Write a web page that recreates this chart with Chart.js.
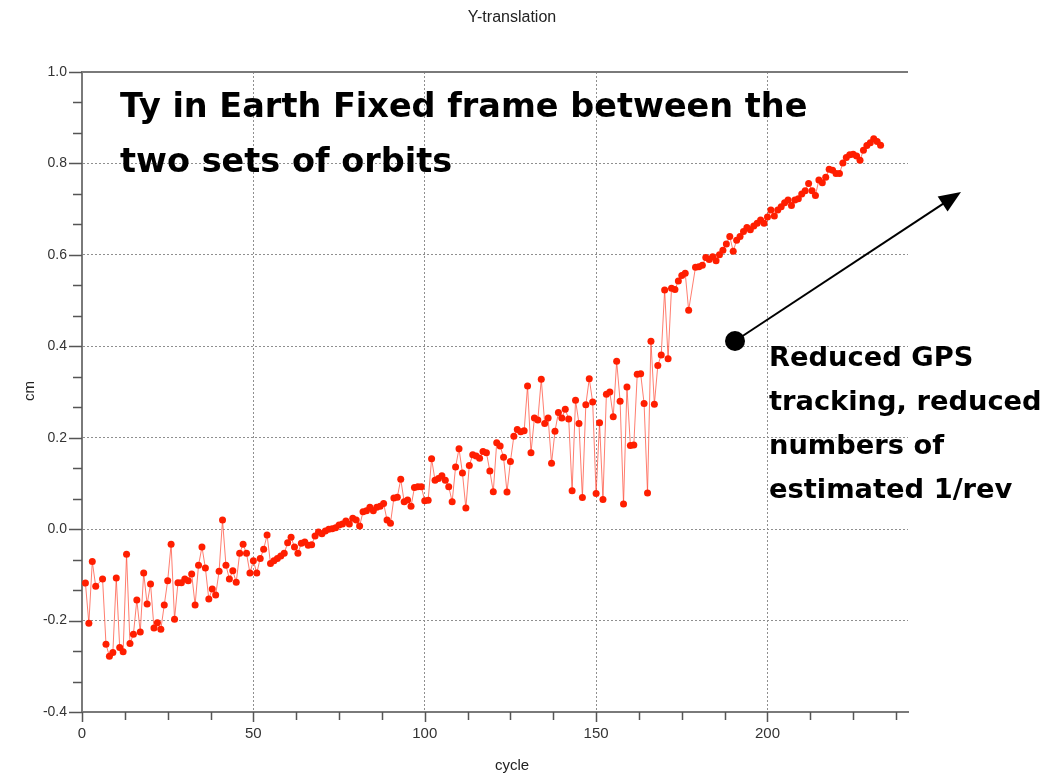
<!DOCTYPE html>
<html>
<head>
<meta charset="utf-8">
<title>Y-translation</title>
<script src="https://cdn.jsdelivr.net/npm/chart.js@4.4.1/dist/chart.umd.min.js"></script>
<style>
  html, body { margin: 0; padding: 0; background: #ffffff; }
</style>
</head>
<body>
<canvas id="tyChart" width="1061" height="775"></canvas>
<script>
// ---------------- DATA ----------------
// Ty per cycle, starting at cycle 1 (null = no solution for that cycle)
const ty = [
  -0.118, -0.206, -0.071, -0.125,   null, -0.109, -0.252, -0.278, -0.270, -0.107,
  -0.259, -0.268, -0.055, -0.250, -0.230, -0.155, -0.225, -0.096, -0.164, -0.120,
  -0.216, -0.205, -0.219, -0.166, -0.113, -0.033, -0.197, -0.117, -0.117, -0.109,
  -0.113, -0.098, -0.166, -0.079, -0.039, -0.085, -0.153, -0.131, -0.144, -0.092,
   0.020, -0.079, -0.109, -0.091, -0.116, -0.053, -0.033, -0.053, -0.096, -0.069,
  -0.096, -0.064, -0.044, -0.013, -0.075, -0.069, -0.064, -0.059, -0.053, -0.030,
  -0.018, -0.039, -0.053, -0.031, -0.028, -0.035, -0.034, -0.015, -0.006, -0.010,
  -0.004,  0.000,  0.001,  0.003,  0.009,  0.011,  0.018,  0.011,  0.024,  0.020,
   0.007,  0.038,  0.040,  0.048,  0.040,  0.048,  0.050,  0.056,  0.020,  0.013,
   0.068,  0.070,  0.109,  0.060,  0.064,  0.050,  0.091,  0.093,  0.093,  0.062,
   0.063,  0.154,  0.107,  0.111,  0.117,  0.107,  0.093,  0.060,  0.136,  0.176,
   0.123,  0.046,  0.139,  0.163,  0.160,  0.155,  0.170,  0.167,  0.127,  0.082,
   0.189,  0.182,  0.157,  0.081,  0.148,  0.203,  0.218,  0.213,  0.215,  0.313,
   0.167,  0.243,  0.239,  0.328,  0.231,  0.243,  0.144,  0.214,  0.255,  0.243,
   0.262,  0.241,  0.084,  0.282,  0.231,  0.069,  0.272,  0.329,  0.278,  0.078,
   0.233,  0.065,  0.295,  0.300,  0.246,  0.367,  0.280,  0.055,  0.311,  0.183,
   0.184,  0.339,  0.340,  0.275,  0.079,  0.411,  0.273,  0.358,  0.381,  0.523,
   0.373,  0.527,  0.524,  0.543,  0.555,  0.560,  0.479,   null,  0.573,  0.574,
   0.577,  0.594,  0.590,  0.596,  0.587,  0.600,  0.610,  0.624,  0.640,  0.608,
   0.632,  0.640,  0.651,  0.660,  0.655,  0.663,  0.669,  0.676,  0.669,  0.683,
   0.698,  0.685,  0.698,  0.705,  0.714,  0.720,  0.708,  0.720,  0.723,  0.733,
   0.740,  0.756,  0.740,  0.730,  0.764,  0.758,  0.770,  0.787,  0.785,  0.778,
   0.778,  0.801,  0.813,  0.819,  0.820,  0.816,  0.807,  0.829,  0.839,  0.845,
   0.854,  0.848,  0.840
];
const firstCycle = 1;

// axis ticks
const xTicks = [0, 50, 100, 150, 200];
const yTicks = [-0.4, -0.2, 0.0, 0.2, 0.4, 0.6, 0.8, 1.0];
const xMinorStep = 12.5;
const yMinorStep = 0.2 / 3;

// text on the plot
const plotTitle = 'Y-translation';
const xTitle = 'cycle';
const yTitle = 'cm';
const noteTop = ['Ty in Earth Fixed frame between the', 'two sets of orbits'];
const noteSide = ['Reduced GPS', 'tracking, reduced', 'numbers of', 'estimated 1/rev'];

// ---------------- STYLE ----------------
const red = '#ff1e00';
const redLine = 'rgba(255, 70, 50, 0.7)';
const gridGrey = '#8f8f8f';
const axisGrey = '#7a7a7a';
const labelFont = '"Liberation Sans", Arial, sans-serif';
const noteFont = '"DejaVu Sans", Verdana, sans-serif';

const points = ty.map((v, i) => ({ x: firstCycle + i, y: v }));

// ---------- ticks, frame, titles and notes drawn over the chart ----------
const extras = {
  id: 'extras',
  afterDraw(chart) {
    const ctx = chart.ctx;
    const xs = chart.scales.x, ys = chart.scales.y;
    const area = chart.chartArea;
    ctx.save();

    // top frame line
    ctx.strokeStyle = axisGrey;
    ctx.lineWidth = 2;
    ctx.beginPath();
    ctx.moveTo(area.left, area.top);
    ctx.lineTo(area.right, area.top);
    ctx.stroke();

    // tick marks (major + minor)
    ctx.strokeStyle = '#555';
    ctx.lineWidth = 1.5;
    ctx.beginPath();
    for (let k = 0; k * xMinorStep < xs.max; k++) {
      const px = Math.round(xs.getPixelForValue(k * xMinorStep)) + 0.5;
      const len = (k % 4 === 0) ? 10 : 8;
      ctx.moveTo(px, area.bottom);
      ctx.lineTo(px, area.bottom + len);
    }
    for (let k = 0; k <= 21; k++) {
      const py = Math.round(ys.getPixelForValue(ys.min + k * yMinorStep)) + 0.5;
      const len = (k % 3 === 0) ? 13 : 9;
      ctx.moveTo(area.left, py);
      ctx.lineTo(area.left - len, py);
    }
    ctx.stroke();

    // titles
    ctx.fillStyle = '#222';
    ctx.textAlign = 'center';
    ctx.textBaseline = 'alphabetic';
    ctx.font = '16px ' + labelFont;
    ctx.fillText(plotTitle, 512, 22);
    ctx.font = '15px ' + labelFont;
    ctx.fillText(xTitle, 512, 770);
    ctx.save();
    ctx.translate(34, 391);
    ctx.rotate(-Math.PI / 2);
    ctx.fillText(yTitle, 0, 0);
    ctx.restore();

    // notes
    ctx.fillStyle = '#000';
    ctx.textAlign = 'left';
    ctx.font = 'bold 33.5px ' + noteFont;
    noteTop.forEach((line, i) => ctx.fillText(line, 120, 117 + i * 55));
    ctx.font = 'bold 27.3px ' + noteFont;
    noteSide.forEach((line, i) => ctx.fillText(line, 769, 366 + i * 44));

    // pointer arrow
    const from = { x: 735, y: 341 }, to = { x: 961, y: 192 };
    const ang = Math.atan2(to.y - from.y, to.x - from.x);
    ctx.strokeStyle = '#000';
    ctx.lineWidth = 2;
    ctx.beginPath();
    ctx.moveTo(from.x, from.y);
    ctx.lineTo(to.x - 18 * Math.cos(ang), to.y - 18 * Math.sin(ang));
    ctx.stroke();
    ctx.fillStyle = '#000';
    ctx.beginPath();
    ctx.moveTo(to.x, to.y);
    ctx.lineTo(to.x - 22 * Math.cos(ang) + 9 * Math.sin(ang), to.y - 22 * Math.sin(ang) - 9 * Math.cos(ang));
    ctx.lineTo(to.x - 22 * Math.cos(ang) - 9 * Math.sin(ang), to.y - 22 * Math.sin(ang) + 9 * Math.cos(ang));
    ctx.closePath();
    ctx.fill();
    ctx.beginPath();
    ctx.arc(from.x, from.y, 10, 0, Math.PI * 2);
    ctx.fill();

    ctx.restore();
  }
};

// ---------------- CHART ----------------
const isEdge = (v, lo, hi) => Math.abs(v - lo) < 1e-9 || Math.abs(v - hi) < 1e-9;

new Chart(document.getElementById('tyChart'), {
  type: 'line',
  data: {
    datasets: [{
      data: points,
      borderColor: redLine,
      borderWidth: 1,
      pointRadius: 3.5,
      pointBackgroundColor: red,
      pointBorderColor: red,
      pointBorderWidth: 0,
      spanGaps: true,
      tension: 0
    }]
  },
  options: {
    responsive: false,
    animation: false,
    events: [],
    layout: { padding: { top: 72, right: 153, left: 0, bottom: 0 } },
    plugins: {
      legend: { display: false },
      tooltip: { enabled: false }
    },
    scales: {
      x: {
        type: 'linear',
        min: 0,
        max: 241,
        afterBuildTicks: scale => { scale.ticks = xTicks.map(v => ({ value: v })); },
        afterFit: scale => { scale.height = 63; },
        ticks: {
          padding: 13,
          color: '#333',
          font: { family: labelFont, size: 15 },
          callback: v => String(v)
        },
        grid: {
          drawTicks: false,
          color: c => (c.tick && c.tick.value === 0) ? 'transparent' : gridGrey,
          lineWidth: 1
        },
        border: { color: axisGrey, width: 2, dash: [2, 2] }
      },
      y: {
        min: -0.4,
        max: 1.0,
        afterBuildTicks: scale => { scale.ticks = yTicks.map(v => ({ value: v })); },
        afterFit: scale => { scale.width = 82; },
        ticks: {
          padding: 15,
          color: '#333',
          font: { family: labelFont, size: 14 },
          callback: v => Number(v).toFixed(1)
        },
        grid: {
          drawTicks: false,
          color: c => (c.tick && isEdge(c.tick.value, -0.4, 1.0)) ? 'transparent' : gridGrey,
          lineWidth: 1
        },
        border: { color: axisGrey, width: 2, dash: [2, 2] }
      }
    }
  },
  plugins: [extras]
});
</script>
</body>
</html>
